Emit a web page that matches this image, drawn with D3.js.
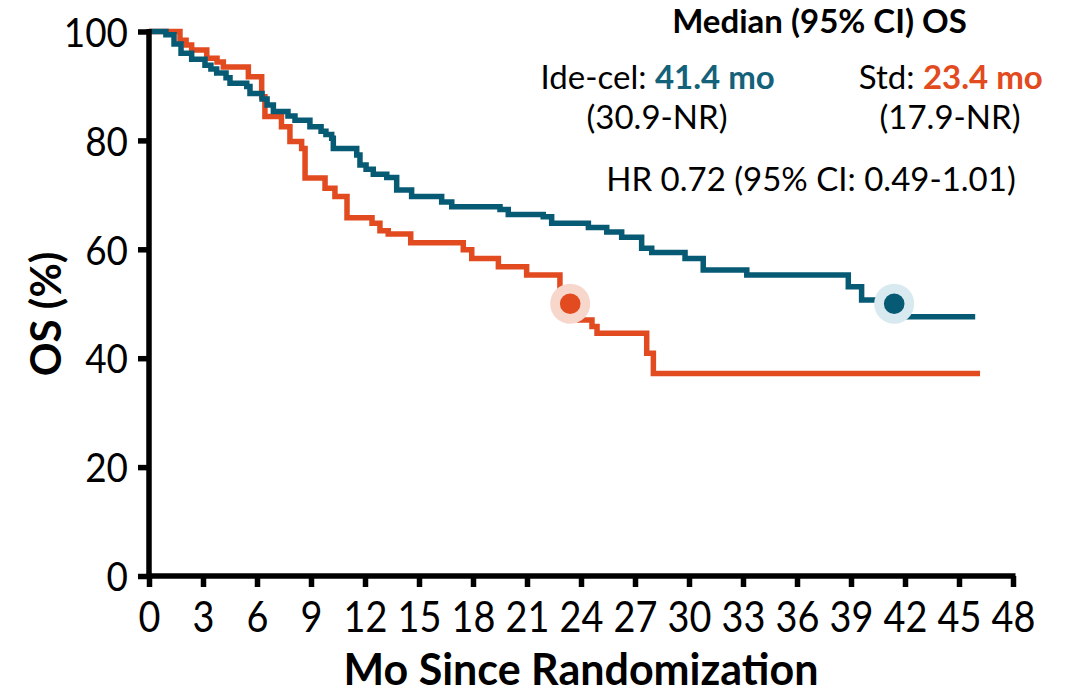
<!DOCTYPE html>
<html>
<head>
<meta charset="utf-8">
<script src="https://cdn.jsdelivr.net/npm/d3@7"></script>
<style>
  body { margin: 0; background: #fff; }
  svg { display: block; }
</style>
</head>
<body>
<svg id="chart" width="1076" height="695"></svg>
<script>
// Axis ticks
const xTicks = [0, 3, 6, 9, 12, 15, 18, 21, 24, 27, 30, 33, 36, 39, 42, 45, 48];
const yTicks = [0, 20, 40, 60, 80, 100];

// Kaplan-Meier steps: month of each drop and survival (%) after it
const ideCelTime = [0, 0.94, 1.39, 1.78, 2.37, 3.11, 3.44, 3.76, 4.28, 4.5, 5.43, 5.61, 6.28, 6.56, 6.91,
  7.72, 8.11, 8.94, 9.56, 9.83, 10.15, 10.24, 11.54, 11.72, 12.06, 12.46, 13.21, 13.76, 14.59, 16.26,
  16.82, 19.5, 19.96, 21.9, 22.37, 24.41, 25.43, 26.26, 27.37, 27.93, 29.78, 30.79, 33.21, 38.85,
  39.59, 41.4, 45.9];
const ideCelOS = [100, 99.4, 97.7, 96.0, 94.9, 93.8, 93.1, 92.4, 91.5, 90.5, 89.9, 88.6, 87.6, 86.5, 85.3,
  84.5, 83.7, 82.5, 81.7, 81.1, 80.4, 78.5, 77.3, 75.5, 74.7, 73.8, 73.2, 70.9, 69.7, 68.7,
  67.8, 67.3, 66.4, 66.0, 64.8, 64.0, 63.2, 62.2, 60.2, 59.4, 58.3, 56.2, 55.3, 53.1,
  50.7, 47.6, 47.6];

const stdTime = [0, 1.72, 2.06, 2.37, 3.21, 3.78, 4.13, 5.52, 6.26, 6.44, 7.36, 7.83, 8.48, 8.67,
  9.78, 10.33, 11.0, 12.39, 12.83, 13.29, 14.54, 17.46, 17.93, 19.41, 20.98, 22.83, 23.92,
  24.61, 24.89, 27.65, 28.02, 46.17];
const stdOS = [100, 98.4, 97.5, 96.6, 95.1, 94.4, 93.5, 91.7, 88.0, 84.4, 82.5, 79.8, 78.5, 73.1,
  71.2, 69.7, 65.8, 64.8, 63.4, 62.8, 61.2, 59.9, 58.3, 56.8, 55.3, 51.6, 47.0,
  45.8, 44.6, 40.9, 37.2, 37.2];

// Median OS (months) at 50% survival
const medianIdeCel = 41.4;
const medianStd = 23.4;

const BLUE = "#075a73";
const ORANGE = "#e24a20";
const FONT = "Lato, 'Open Sans', sans-serif";

const svg = d3.select("#chart");

const x = d3.scaleLinear().domain([0, 48]).range([149, 1013]);
const y = d3.scaleLinear().domain([0, 100]).range([576, 31.5]);

// ---- Curves ----
const line = d3.line()
  .x(d => x(d[0]))
  .y(d => y(d[1]))
  .curve(d3.curveStepAfter);

const stdPts = stdTime.map((t, i) => [t, stdOS[i]]);
const idePts = ideCelTime.map((t, i) => [t, ideCelOS[i]]);

svg.append("path").datum(stdPts)
  .attr("d", line).attr("fill", "none")
  .attr("stroke", ORANGE).attr("stroke-width", 5.5);

svg.append("path").datum(idePts)
  .attr("d", line).attr("fill", "none")
  .attr("stroke", BLUE).attr("stroke-width", 5.5);

// ---- Median markers ----
const medians = [
  { t: medianStd, halo: "#f7d6cc", dot: ORANGE },
  { t: medianIdeCel, halo: "#d8eaef", dot: BLUE }
];
medians.forEach(m => {
  svg.append("circle").attr("cx", x(m.t)).attr("cy", y(50)).attr("r", 20).attr("fill", m.halo);
  svg.append("circle").attr("cx", x(m.t)).attr("cy", y(50)).attr("r", 10.3).attr("fill", m.dot);
});

// ---- Axes ----
const gx = svg.append("g")
  .attr("transform", `translate(0,${y(0)})`)
  .call(d3.axisBottom(x).tickValues(xTicks).tickSize(11).tickSizeOuter(0));
gx.select(".domain").remove();
gx.selectAll(".tick line").attr("stroke", "#000").attr("stroke-width", 5.5);
gx.selectAll(".tick text")
  .attr("y", 56).attr("dy", null)
  .attr("fill", "#000")
  .attr("font-family", FONT).attr("font-size", 43)
  .attr("transform", "scale(0.88,1)");

const yScaleX = 0.9;
const gy = svg.append("g")
  .attr("transform", `translate(${x(0)},0)`)
  .call(d3.axisLeft(y).tickValues(yTicks).tickSize(11).tickSizeOuter(0));
gy.select(".domain").remove();
gy.selectAll(".tick line").attr("stroke", "#000").attr("stroke-width", 5.5);
gy.selectAll(".tick text")
  .attr("x", -21 / yScaleX).attr("dy", "0.36em")
  .attr("fill", "#000")
  .attr("font-family", FONT).attr("font-size", 41)
  .attr("transform", `scale(${yScaleX},1)`);

// axis lines
svg.append("line")
  .attr("x1", x(0) - 2.5).attr("x2", x(48) + 2.5)
  .attr("y1", y(0)).attr("y2", y(0))
  .attr("stroke", "#000").attr("stroke-width", 5.5);
svg.append("line")
  .attr("x1", x(0)).attr("x2", x(0))
  .attr("y1", y(100) - 2.5).attr("y2", y(0))
  .attr("stroke", "#000").attr("stroke-width", 5.5);

// axis titles
svg.append("text")
  .attr("x", (x(0) + x(48)) / 2).attr("y", 685)
  .attr("text-anchor", "middle")
  .attr("font-family", FONT).attr("font-weight", 700).attr("font-size", 43)
  .attr("fill", "#000")
  .text("Mo Since Randomization");

svg.append("text")
  .attr("transform", "translate(61,314) rotate(-90)")
  .attr("text-anchor", "middle")
  .attr("font-family", FONT).attr("font-weight", 700).attr("font-size", 42)
  .attr("fill", "#000")
  .text("OS (%)");

// ---- Annotation ----
const ANN = 33;
const ann = svg.append("g").attr("font-family", FONT).attr("fill", "#000");

ann.append("text")
  .attr("x", 819.5).attr("y", 33).attr("text-anchor", "middle")
  .attr("font-size", ANN).attr("font-weight", 700)
  .text("Median (95% CI) OS");

const l1 = ann.append("text").attr("x", 657.7).attr("y", 89).attr("text-anchor", "middle").attr("font-size", ANN);
l1.append("tspan").text("Ide-cel: ");
l1.append("tspan").attr("font-weight", 700).attr("fill", "#14627a").text(`${medianIdeCel} mo`);

const l2 = ann.append("text").attr("x", 950.8).attr("y", 89).attr("text-anchor", "middle").attr("font-size", ANN);
l2.append("tspan").text("Std: ");
l2.append("tspan").attr("font-weight", 700).attr("fill", ORANGE).text(`${medianStd} mo`);

ann.append("text").attr("x", 657).attr("y", 129).attr("text-anchor", "middle").attr("font-size", ANN)
  .text("(30.9-NR)");
ann.append("text").attr("x", 950).attr("y", 129).attr("text-anchor", "middle").attr("font-size", ANN)
  .text("(17.9-NR)");
ann.append("text").attr("x", 811).attr("y", 191).attr("text-anchor", "middle").attr("font-size", ANN)
  .text("HR 0.72 (95% CI: 0.49-1.01)");
</script>
</body>
</html>
